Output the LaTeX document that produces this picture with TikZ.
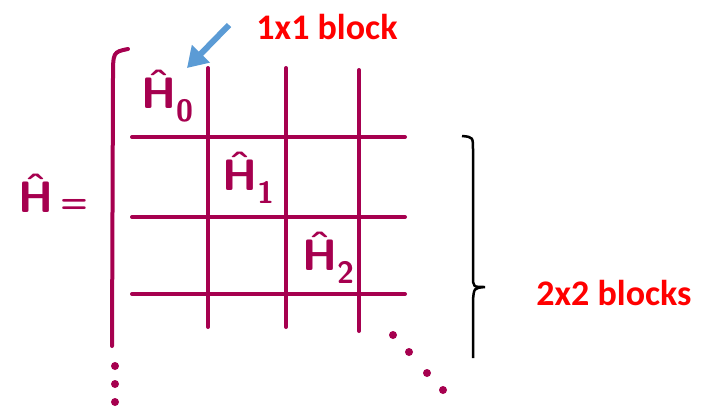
\documentclass[tikz,border=0pt]{standalone}
\usepackage{amsmath}
\usepackage{fontspec}
\usepackage{xcolor}
\usepackage{tikz}
\usetikzlibrary{arrows.meta}
\newfontfamily\carlito{Carlito}
\definecolor{gridcolor}{HTML}{A6004F}
\definecolor{pointercolor}{HTML}{5B9BD5}
\definecolor{notecolor}{HTML}{FF0000}
\tikzset{grid line/.style={draw=gridcolor,line width=4pt,line cap=round},hand/.style={text=gridcolor,font=\fontsize{44}{48}\selectfont\sffamily\bfseries,inner sep=0pt},note/.style={text=notecolor,font=\fontsize{36}{40}\selectfont\carlito\bfseries,inner sep=0pt},dot/.style={circle,fill=gridcolor,inner sep=0pt,minimum size=8pt},brace line/.style={draw=black,line width=2.5pt},pointer/.style={-{Triangle[length=20pt,width=24pt]},draw=pointercolor,line width=6pt}}

\begin{document}
\begin{tikzpicture}[x=1pt,y=-1pt]
 \useasboundingbox (0,0) rectangle (709,408);
 % matrix frame and block grid
 \draw[grid line] (112,346) -- (113,78) .. controls (113,52) .. (128,49);
 \foreach \yy in {137,217,294} {
   \draw[grid line] (132,\yy) -- (405,\yy);
 }
 \foreach \xx/\ytop/\ybot in {208/68/327,286/68/327,359/70/331} {
   \draw[grid line] (\xx,\ytop) -- (\xx,\ybot);
 }
 \foreach \xx/\yy [count=\k] in {115/366,115/384,115/402,393/335,409/352,427/373,443/390} {
   \node[dot] (d\k) at (\xx,\yy) {};
 }
 % block labels
 \node[hand,anchor=base west] (hlhs) at (18,212) {Ĥ\,{\fontsize{32}{36}\selectfont=}};
 \node[hand,anchor=base west] (h0) at (141,108) {$\text{Ĥ}_{\text{0}}$};
 \node[hand,anchor=base west] (h1) at (222,190) {$\text{Ĥ}_{\text{1}}$};
 \node[hand,anchor=base west] (h2) at (302,270) {$\text{Ĥ}_{\text{2}}$};
 % annotations
 \node[note] (single) at (327,27) {1x1 block};
 \node[note] (double) at (614,293) {2x2 blocks};
 \coordinate (tail) at (229,25);
 \coordinate (tip) at (187,68);
 \draw[pointer] (tail) -- (tip);
 \draw[brace line] (462,136) .. controls (473,137) .. (473,150) -- (473,276) .. controls (473,287) .. (485,287) .. controls (474,288) .. (473,300) -- (473,358);
\end{tikzpicture}
\end{document}
